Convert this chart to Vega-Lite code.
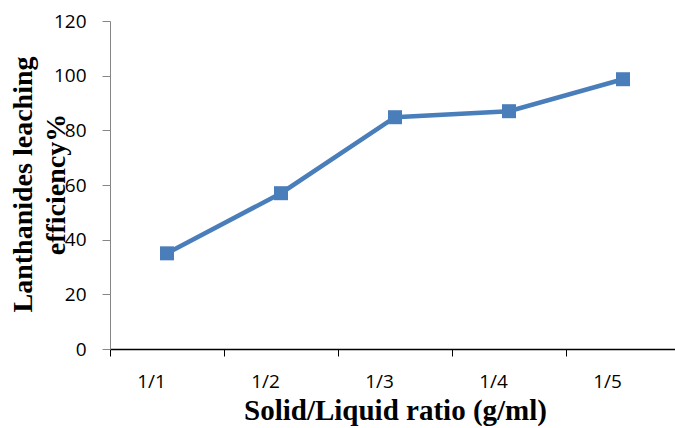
{
  "$schema": "https://vega.github.io/schema/vega-lite/v6.json",
  "width": 570,
  "height": 328,
  "autosize": "none",
  "padding": {"left": 110, "top": 21, "right": 0, "bottom": 79},
  "background": "white",
  "config": {"view": {"stroke": null}},
  "data": {
    "values": [
      {"ratio": "1/1", "eff": 35.0},
      {"ratio": "1/2", "eff": 57.0},
      {"ratio": "1/3", "eff": 84.8},
      {"ratio": "1/4", "eff": 87.0},
      {"ratio": "1/5", "eff": 98.7}
    ]
  },
  "encoding": {
    "x": {
      "field": "ratio",
      "type": "ordinal",
      "bandPosition": 0.5,
      "scale": {"type": "band", "paddingInner": 0, "paddingOuter": 0},
      "axis": {
        "title": "Solid/Liquid ratio (g/ml)",
        "titleFont": "Liberation Serif",
        "titleFontSize": 29,
        "titleFontWeight": "bold",
        "titleColor": "black",
        "titlePadding": 5,
        "labelAngle": 0,
        "labelFont": "Open Sans",
        "labelFontSize": 19,
        "labelColor": "black",
        "labelPadding": 16,
        "labelOffset": -16,
        "tickBand": "extent",
        "tickSize": 7,
        "tickColor": "black",
        "domainColor": "black",
        "domainWidth": 1.5,
        "grid": false
      }
    },
    "y": {
      "field": "eff",
      "type": "quantitative",
      "scale": {"domain": [0, 120], "nice": false, "zero": true},
      "axis": {
        "values": [0, 20, 40, 60, 80, 100, 120],
        "title": ["Lanthanides leaching", "efficiency%"],
        "titleFont": "Liberation Serif",
        "titleFontSize": 28,
        "titleFontWeight": "bold",
        "titleColor": "black",
        "titleAngle": -90,
        "titleAlign": "center",
        "titleBaseline": "top",
        "titleLineHeight": 33,
        "titleX": -101,
        "titleY": 163,
        "labelFont": "Open Sans",
        "labelFontSize": 19,
        "labelColor": "black",
        "labelPadding": 16,
        "tickSize": 8,
        "tickColor": "#868686",
        "domainColor": "#868686",
        "grid": false
      }
    }
  },
  "layer": [
    {"mark": {"type": "line", "color": "#4a7ebb", "strokeWidth": 4.5}},
    {"mark": {"type": "point", "shape": "square", "filled": true, "opacity": 1, "color": "#4a7ebb", "size": 196}}
  ]
}
